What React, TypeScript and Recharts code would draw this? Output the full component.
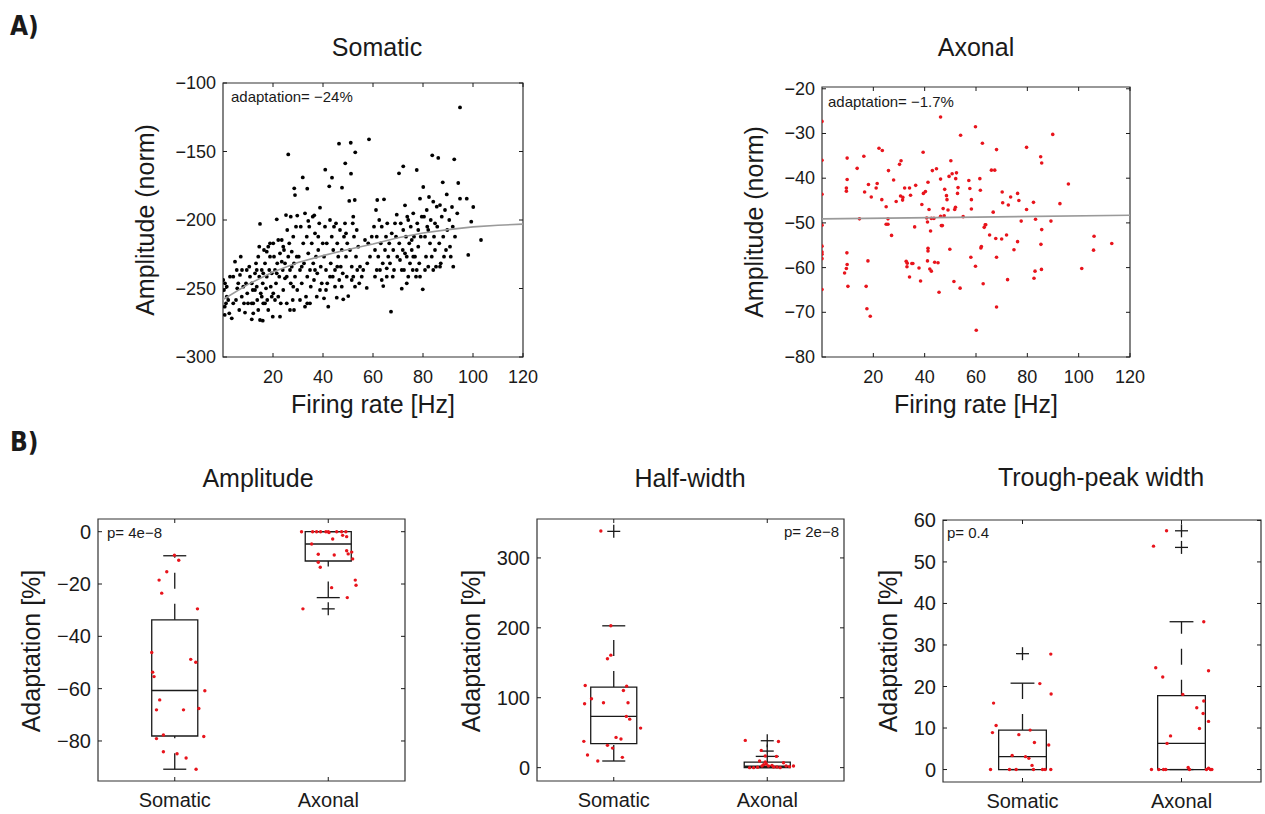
import React from "react";
import {
  ComposedChart,
  ReferenceArea,
  ReferenceLine,
  Scatter,
  XAxis,
  YAxis,
} from "recharts";

const FONT = '"Liberation Sans", Arial, Helvetica, sans-serif';
const INK = "#1a1a1a";
const RED = "#e8141c";
const FIT = "#9a9a9a";

// ---------- A) amplitude vs firing rate ----------
// [firing rate Hz, amplitude (norm)]
const SOMA_PTS: [number, number][] = [
  [0.1, -243.8], [0.4, -251.1], [0.8, -246.2], [1.5, -248.7], [1.2, -260.8], [0.7, -263.3], [2.1, -258.4], [2.8, -241.4],
  [3.5, -271.8], [4.1, -260.8], [4.8, -230.4], [5.5, -236.5], [6.1, -246.2], [6.8, -240.1], [7.1, -226.8], [7.5, -256],
  [8.1, -248.7], [8.4, -260.8], [8.8, -267.6], [9.2, -246.2], [9.5, -236.5], [9.7, -253.5], [5.2, -258.4], [2.5, -268.1],
  [6.5, -265.7], [10, -260.8], [4.1, -241.4], [7.6, -236.5], [5.7, -249.9], [1.5, -256], [0.7, -269.3],
  [10.5, -234.1], [10.8, -241.4], [11.5, -246.2], [11.9, -251.1], [12.1, -260.8], [12.8, -238.9], [13.2, -231.6], [13.5, -248.7],
  [13.7, -258.4], [14.1, -226.8], [14.5, -241.4], [14.8, -273], [15.1, -253.5], [15.5, -236.5], [15.9, -246.2], [16.1, -260.8],
  [16.4, -221.9], [16.8, -231.6], [17.2, -249.9], [17.5, -241.4], [17.7, -258.4], [18.1, -265.7], [18.5, -236.5], [18.8, -226.8],
  [19.1, -248.7], [19.5, -256], [19.9, -270.6], [12.1, -268.1], [14.1, -265.7], [15.5, -256], [16.8, -260.8], [14.5, -219.5],
  [18.1, -219.5], [18.8, -217], [17.5, -223.1], [16.1, -238.9], [13.5, -236.5], [11.5, -260.8], [12.8, -251.1], [19.5, -238.9],
  [14.8, -202.9], [11.5, -272.5], [15.9, -273.5],
  [20.1, -217], [20.4, -226.8], [20.8, -236.5], [21.2, -246.2], [21.5, -199.5], [21.7, -231.6], [22.1, -256], [22.5, -241.4],
  [22.8, -224.3], [23.1, -260.8], [23.5, -214.6], [23.9, -236.5], [24.1, -251.1], [24.4, -221.9], [24.8, -231.6], [25.2, -196.4],
  [25.5, -241.4], [25.7, -207.3], [26.1, -226.8], [26.5, -217], [26.8, -236.5], [27.1, -246.2], [27.5, -223.1], [27.9, -258.4],
  [28.1, -212.2], [28.4, -231.6], [28.8, -241.4], [29.2, -204.9], [29.5, -226.8], [29.7, -251.1], [26.1, -152.1], [28.5, -176.9],
  [28.8, -181.8], [27.1, -197.6], [29.7, -196.8], [26.8, -265.7], [28.4, -265.7], [22.8, -270.6], [20.8, -258.4], [22.1, -214.6],
  [24.8, -242.6], [23.5, -230.4], [25.5, -260.8], [27.5, -234.1], [21.5, -238.9], [24.1, -219.5], [28.1, -248.7], [20.1, -253.5],
  [30.3, -226.8], [30.8, -236.5], [31.1, -204.9], [31.5, -246.2], [31.9, -168.9], [32.1, -217], [32.4, -231.6], [32.8, -195.1],
  [33.2, -256], [33.5, -212.2], [33.7, -177.1], [33.7, -241.4], [34.1, -224.3], [34.5, -204.9], [34.8, -236.5], [35.1, -248.7],
  [35.5, -217], [35.9, -197.6], [36.1, -231.6], [36.4, -243.8], [36.8, -209.7], [37.2, -226.8], [37.5, -256], [37.7, -238.9],
  [38.1, -221.9], [38.5, -202.4], [38.8, -191], [39.1, -234.1], [39.5, -246.2], [36.5, -196.6], [39.9, -217], [33.7, -260.8],
  [40.4, -257.2], [30.8, -258.4], [32.8, -263.3], [34.8, -260.8], [38.8, -251.1], [31.5, -234.1], [34.1, -200.7], [36.8, -236.5],
  [38.1, -212.2],
  [40.4, -226.8], [40.8, -204.9], [40.9, -163.3], [41.2, -236.5], [41.5, -217], [41.7, -246.2], [42.1, -263.3], [42.5, -175.4],
  [42.8, -200], [43.1, -231.6], [43.5, -212.2], [43.6, -169.1], [43.9, -241.4], [44.1, -221.9], [44.4, -204.9], [44.8, -236.5],
  [45.2, -202.4], [45.5, -256.7], [45.7, -217], [46.1, -226.8], [46.4, -144.3], [46.5, -243.8], [46.8, -207.3], [47.1, -234.1],
  [47.5, -221.9], [47.6, -176.4], [47.9, -238.9], [48.1, -257.9], [48.4, -212.2], [48.8, -202.4], [48.9, -158.6], [49.2, -226.8],
  [49.5, -241.4], [49.7, -217], [41.2, -251.1], [44.8, -248.7], [42.8, -241.4], [47.5, -248.7], [45.7, -234.1], [49.2, -209.7],
  [50.1, -255.5], [50.5, -186.1], [50.8, -221.9], [51.1, -143.6], [51.2, -166.2], [51.5, -234.1], [51.9, -202.4], [52.1, -241.4],
  [52.4, -212.2], [52.7, -185.4], [52.9, -150.6], [53.2, -226.8], [53.5, -207.3], [53.7, -236.5], [54.1, -219.5], [54.5, -246.2],
  [54.8, -234.1], [55.5, -241.4], [56.1, -236.5], [56.8, -214.6], [57.5, -249.6], [57.7, -231.6], [58.1, -217], [58.4, -141.1],
  [58.8, -226.8], [59.5, -212.2], [51.5, -243.8], [52.8, -248.7], [52.1, -197.6],
  [60.4, -204.9], [60.8, -221.9], [61.2, -192.7], [61.5, -212.2], [61.7, -185.4], [62.1, -226.8], [62.5, -200], [62.8, -236.5],
  [63.1, -217], [63.5, -204.9], [63.9, -231.6], [64.1, -248.2], [64.4, -184.9], [64.8, -221.9], [65.2, -212.2], [65.5, -241.4],
  [65.7, -202.4], [66.1, -226.8], [66.5, -217], [66.8, -231.6], [67.2, -266.9], [67.5, -209.7], [67.9, -241.4], [68.1, -221.9],
  [68.4, -236.5], [68.8, -202.4], [69.2, -212.2], [69.5, -196.1], [69.7, -226.8], [63.5, -243.8], [65.5, -235.3], [61.5, -236.5],
  [60.8, -241.4],
  [70.4, -165.9], [70.5, -217], [70.8, -229.2], [71.1, -202.4], [71.5, -250.1], [71.9, -221.9], [72.1, -160.8], [72.4, -236.5],
  [72.8, -189.3], [73.2, -212.2], [73.5, -226.8], [73.7, -197.6], [74.1, -241.4], [74.5, -217], [74.8, -231.6], [75.1, -204.9],
  [75.5, -221.9], [75.9, -236.5], [76.1, -195.1], [76.4, -212.2], [76.8, -226.8], [77.2, -241.4], [77.5, -163.5], [77.7, -202.4],
  [78.1, -219.5], [78.5, -231.6], [78.8, -184.4], [79.1, -212.2], [79.5, -197.6], [79.9, -250.6], [71.5, -236.5], [73.5, -246.2],
  [75.5, -214.6], [77.5, -236.5], [72.1, -207.3], [74.1, -200], [76.1, -226.8], [78.1, -207.3], [72.8, -224.3], [78.8, -241.4],
  [80.1, -175.9], [80.4, -197.6], [80.8, -212.2], [81.2, -226.8], [81.5, -192.7], [81.7, -204.9], [82.1, -234.1], [82.4, -183.2],
  [82.8, -217], [83.1, -200], [83.5, -226.8], [83.7, -152.8], [84.1, -186.6], [84.4, -212.2], [84.8, -221.9], [85.2, -234.1],
  [85.5, -190.3], [85.7, -204.9], [86.1, -154.7], [86.5, -217], [86.8, -189.1], [87.1, -231.6], [87.5, -197.6], [87.9, -172.5],
  [88.1, -212.2], [88.4, -226.8], [88.8, -192.7], [89.2, -221.9], [89.5, -181.3], [89.7, -207.3], [80.8, -236.5], [84.1, -236.5],
  [86.8, -234.1], [82.1, -207.3], [84.8, -202.4],
  [90.5, -200], [90.8, -219.5], [91.6, -190.5], [92.1, -234.1], [92.5, -155.7], [92.8, -212.2], [93.7, -195.1], [94.1, -173],
  [94.8, -117.8], [94.8, -184.4], [97.5, -184.4], [98.1, -225.5], [99.3, -201.2], [100.1, -190.5], [103.2, -214.6], [91.1, -226.8],
  [91.9, -204.9],
];
const SOMA_FIT_RATE = [0, 10, 20, 30, 40, 50, 60, 70, 80, 90, 100, 110, 120];
const SOMA_FIT_AMP = [-258, -247, -238, -231, -226, -221.5, -217.5, -213, -209.5, -207, -205, -203.8, -203];

const AXON_PTS: [number, number][] = [
  [0, -27.3], [0, -36], [0, -43.6], [0, -50.5], [0, -55.2], [0, -56.5], [0, -57], [0, -58], [0, -64.9],
  [9.8, -35.5], [9.8, -40.3], [9.5, -42.2], [9.5, -42.9], [9.7, -56.7], [9.8, -59.3], [9.5, -60.2], [8.8, -61.2], [10.1, -64.2],
  [13.7, -37.8], [14.6, -49.1], [16.3, -35.1], [16.6, -43.1], [17.9, -58.5], [17.2, -64.2], [17.5, -69.2], [18.8, -70.9],
  [18.1, -41.4], [19.2, -44.2], [21.1, -42.2], [21.5, -41.2], [22.2, -33.3], [23.5, -33.8], [23.3, -44.8], [25, -46.4],
  [25, -50.3], [25.7, -50.3], [25.9, -38.3], [25.7, -49.1], [27.1, -52.8], [27.9, -40.4], [28.9, -45.2], [30.2, -36.9],
  [30.8, -36.1], [30.6, -44], [31.5, -44.3], [31.4, -44.9], [32.2, -42.2], [32.8, -58.6], [33.1, -59.8], [33.2, -59],
  [34.1, -42.2], [34.1, -62.1], [34.5, -43.8], [35, -59.1], [35.4, -59.1], [36.1, -50.9], [36.5, -41.6], [37.8, -60.1],
  [38.4, -63], [38.9, -45.9], [39.4, -34.2], [39.5, -43.4], [40.3, -43], [40.8, -48.9], [41.1, -49.8], [41.3, -40.9],
  [41.3, -55.7], [41.3, -56.3], [41.1, -58.5], [41.7, -47], [42, -60.3], [42.3, -51.8], [42.6, -60.8], [42.6, -49],
  [43, -38.3], [43.6, -49], [43.9, -58.8], [44.6, -37.9], [45.2, -58.9], [45.6, -65.5], [46.2, -26.3], [46.2, -40.2],
  [46.2, -48.5], [46.5, -50.6], [46.9, -50.6], [47.2, -46.8], [47.6, -48.4], [47.8, -42.5], [48.5, -43.9], [48.7, -44.8],
  [49.1, -47.1], [49.5, -39.6], [49.8, -55.9], [50.2, -36.1], [50.7, -39], [51.4, -63.1], [51.7, -47], [52, -46.5],
  [52.1, -40.1], [52.4, -38.8], [52.8, -43.4], [53, -42.1], [53.8, -64.6], [54, -30.4], [55, -48.6], [57.2, -40.5],
  [57.6, -42.3], [58, -57.7], [58.2, -44.8], [58.2, -46.9], [59.8, -28.5], [59.8, -59.7], [60.1, -74], [61.5, -40.1],
  [61.7, -42.7], [61.9, -55.6], [62.1, -55.3], [62.5, -32.2], [62.8, -63.6], [63.2, -51], [63.6, -50.4], [63.8, -50.4],
  [65.3, -52.7], [66, -38.2], [66.7, -47.6], [67.3, -38.2], [67.7, -53.5], [68, -57.7], [68, -33.6], [68, -68.8],
  [70, -53.6], [70.2, -43.1], [70.4, -45.5], [71.9, -52.7], [72.3, -62.7], [72.6, -46], [73.5, -44.2], [74.8, -56],
  [76.2, -43.4], [76.2, -54.2], [76.7, -45], [77.6, -49.6], [79.7, -47], [79.7, -33.1], [82.4, -45.4], [82.6, -62.4],
  [83, -60.8], [83.2, -49.2], [85.2, -35.2], [85.6, -36.6], [85.5, -60.4], [85.3, -54.8], [85.6, -51.5], [89.2, -49.6],
  [89.9, -30.2], [92.7, -45.7], [96, -41.3], [101.2, -60.2], [105.8, -56.1], [106, -53], [112.9, -54.6],
];
const AXON_FIT_RATE = [0, 60, 120];
const AXON_FIT_AMP = [-49.1, -48.7, -48.3];

const RATE_TICKS = [20, 40, 60, 80, 100, 120];
const SOMA_AMP_TICKS = [-300, -250, -200, -150, -100];
const AXON_AMP_TICKS = [-80, -70, -60, -50, -40, -30, -20];

// ---------- B) adaptation box plots ----------
const GROUPS = ["Somatic", "Axonal"];
// per group: [q1, median, q3, lower whisker, upper whisker]
const AMP_BOX = [
  [-78.1, -60.7, -33.7, -90.8, -9.2],
  [-11.2, -4.7, 0, -25.2, 0],
];
const AMP_OUT = [[], [-29.5]];
// [jittered x position, adaptation %]
const AMP_PTS: [number, number][] = [
  [0.998, -9], [1.026, -10.9], [0.948, -15.3], [0.898, -18.5], [0.915, -23.5], [1.148, -29.5], [0.85, -46.2], [1.104, -48.8],
  [1.137, -49.9], [0.856, -53.7], [0.865, -55.4], [1.196, -60.8], [0.902, -64.3], [0.881, -68.1], [1.057, -68.1], [1.157, -67.6],
  [0.926, -77.7], [1.189, -78.3], [0.881, -79.1], [0.926, -84.1], [1.015, -84.9], [1.074, -86.5], [1.139, -90.8],
  [1.826, 0], [1.898, 0], [1.924, 0], [1.95, 0], [1.985, 0], [2.0, 0], [2.055, 0], [2.087, 0], [2.115, 0], [2.005, -0.3],
  [1.892, -4.7], [2.029, -2.8], [2.094, -1.4], [2.12, -1.9], [2.12, -7.3], [2.153, -7.8], [2.13, -8.5], [1.935, -8.6],
  [2.039, -8.9], [2.159, -10.4], [1.935, -11.7], [1.948, -13.6], [2.176, -18.5], [2.181, -20.5], [2.022, -21.4], [2.124, -25.2],
  [1.835, -29.5],
];

const HW_BOX = [
  [34.3, 73.3, 115.2, 9.5, 202.9],
  [0, 2, 8, 0, 16.1],
];
const HW_OUT = [[338], [23.7, 38.5]];
const HW_PTS: [number, number][] = [
  [0.916, 338.6], [0.981, 202.9], [0.981, 160.9], [0.959, 155.7], [0.814, 117.6], [0.855, 98.6], [1.063, 110.4], [1.084, 116.6],
  [0.81, 91.4], [0.933, 92.9], [1.093, 92.9], [1.082, 73.3], [1.104, 69.4], [1.175, 56.6], [0.805, 37.6], [1.015, 43.3],
  [1.047, 40.9], [0.959, 31.9], [0.992, 28], [0.829, 18], [0.896, 9.5], [1.056, 14.7],
  [1.857, 39], [2.073, 37.5], [1.961, 24.7], [1.987, 16.6], [2.06, 16.1], [1.885, 0], [1.911, 0], [1.937, 0.5],
  [1.966, 2.3], [1.976, 4.3], [1.994, 5.2], [2.008, 2.3], [2.031, 3.3], [2.041, 0.9], [2.063, 0.9], [2.084, 0],
  [2.106, 7.1], [2.123, 2.3], [2.145, 1.4], [2.171, 2.3], [1.987, 8], [1.95, 9.5],
];

const TP_BOX = [
  [0, 3.1, 9.5, 0, 20.8],
  [0, 6.3, 17.8, 0, 35.6],
];
const TP_OUT = [[27.9], [53.5, 57.5]];
const TP_PTS: [number, number][] = [
  [1.178, 27.8], [1.109, 20.7], [1.18, 18.2], [0.818, 16], [0.834, 10.6], [0.811, 8.9], [0.977, 8.4], [1.048, 9.5],
  [1.075, 6.5], [1.165, 5.9], [0.935, 3.4], [1.019, 3.1], [1.04, 2.7], [1.06, 1], [0.799, 0], [0.918, 0],
  [0.96, 0], [1.069, 0], [1.126, 0], [1.142, 0], [1.178, 0],
  [1.906, 57.5], [1.824, 53.8], [2.14, 35.6], [1.838, 24.5], [1.882, 22.3], [2.17, 23.8], [2.008, 18.1], [2.14, 16.5],
  [2.096, 14.9], [2.136, 13.5], [2.17, 11.6], [2.113, 9.9], [1.931, 8.1], [1.909, 6.3], [1.811, 0], [1.857, 0],
  [1.887, 0], [1.901, 0], [2.042, 0.5], [2.05, 0], [2.157, 0], [2.17, 0.3], [2.182, 0], [2.191, 0],
];

const minus = (v: number) => String(v).replace("-", "\u2212");

function XTick(props: any) {
  const { x, y, payload, plotH, size, gap, fmt } = props;
  return (
    <g>
      <line x1={x} x2={x} y1={y} y2={y - 4} stroke={INK} />
      <line x1={x} x2={x} y1={y - plotH} y2={y - plotH + 4} stroke={INK} />
      <text x={x} y={y + gap} textAnchor="middle" dominantBaseline="central" fontSize={size} fontFamily={FONT} fill={INK}>
        {fmt(payload.value)}
      </text>
    </g>
  );
}

function YTick(props: any) {
  const { x, y, payload, plotW, size } = props;
  return (
    <g>
      <line x1={x} x2={x + 4} y1={y} y2={y} stroke={INK} />
      <line x1={x + plotW} x2={x + plotW - 4} y1={y} y2={y} stroke={INK} />
      <text x={x - 7} y={y} textAnchor="end" dominantBaseline="central" fontSize={size} fontFamily={FONT} fill={INK}>
        {minus(payload.value)}
      </text>
    </g>
  );
}

function Txt({ x, y, size, children, anchor = "middle", rotate = false, bold = false, family = FONT }: any) {
  const tx = anchor === "middle" ? "-50%" : anchor === "end" ? "-100%" : "0";
  return (
    <div
      style={{
        position: "absolute",
        left: x,
        top: y,
        transform: `translate(${tx}, -50%)${rotate ? " rotate(-90deg)" : ""}`,
        fontSize: size,
        lineHeight: 1,
        whiteSpace: "nowrap",
        fontFamily: family,
        fontWeight: bold ? 700 : 400,
        color: INK,
      }}
    >
      {children}
    </div>
  );
}

const dot = (fill: string, r: number) => (p: any) => <circle cx={p.cx} cy={p.cy} r={r} fill={fill} />;

const plus = (p: any) => (
  <g stroke={INK} strokeWidth={1.3}>
    <line x1={p.cx - 6.5} x2={p.cx + 6.5} y1={p.cy} y2={p.cy} />
    <line x1={p.cx} x2={p.cx} y1={p.cy - 6.5} y2={p.cy + 6.5} />
  </g>
);

function ScatterPanel({ left, top, w, h, xDomain, yDomain, xTicks, yTicks, pts, fitX, fitY, color, r }: any) {
  const data = pts.map(([x, y]: [number, number]) => ({ x, y }));
  const fit = fitX.map((x: number, i: number) => ({ x, y: fitY[i] }));
  return (
    <div style={{ position: "absolute", left: left - 70, top: top - 10 }}>
      <ComposedChart width={w + 100} height={h + 50} margin={{ top: 10, right: 30, bottom: 10, left: 10 }}>
        <XAxis
          type="number"
          dataKey="x"
          domain={xDomain}
          ticks={xTicks}
          interval={0}
          allowDataOverflow
          height={30}
          axisLine={false}
          tickLine={false}
          tickSize={0}
          tickMargin={0}
          tick={<XTick plotH={h} size={18} gap={20} fmt={(v: number) => String(v)} />}
        />
        <YAxis
          type="number"
          dataKey="y"
          domain={yDomain}
          ticks={yTicks}
          interval={0}
          allowDataOverflow
          width={60}
          axisLine={false}
          tickLine={false}
          tickSize={0}
          tickMargin={0}
          tick={<YTick plotW={w} size={18} />}
        />
        <ReferenceArea
          x1={xDomain[0]}
          x2={xDomain[1]}
          y1={yDomain[0]}
          y2={yDomain[1]}
          fill="none"
          stroke="#333"
          strokeWidth={1.2}
          ifOverflow="visible"
        />
        <Scatter data={data} shape={dot(color, r)} isAnimationActive={false} />
        <Scatter
          data={fit}
          line={{ stroke: FIT, strokeWidth: 1.6 }}
          shape={() => <g />}
          isAnimationActive={false}
        />
      </ComposedChart>
    </div>
  );
}

function BoxPanel({ left, top, w, h, right = 10, yDomain, yTicks, stats, outliers, pts }: any) {
  const data = pts.map(([x, y]: [number, number]) => ({ x, y }));
  return (
    <div style={{ position: "absolute", left: left - 70, top: top - 10 }}>
      <ComposedChart width={w + 70 + right} height={h + 50} margin={{ top: 10, right, bottom: 10, left: 10 }}>
        <XAxis
          type="number"
          dataKey="x"
          domain={[0.5, 2.5]}
          ticks={[1, 2]}
          interval={0}
          allowDataOverflow
          height={30}
          axisLine={false}
          tickLine={false}
          tickSize={0}
          tickMargin={0}
          tick={<XTick plotH={h} size={20} gap={19} fmt={(v: number) => GROUPS[v - 1]} />}
        />
        <YAxis
          type="number"
          dataKey="y"
          domain={yDomain}
          ticks={yTicks}
          interval={0}
          allowDataOverflow
          width={60}
          axisLine={false}
          tickLine={false}
          tickSize={0}
          tickMargin={0}
          tick={<YTick plotW={w} size={20} />}
        />
        <ReferenceArea
          x1={0.5}
          x2={2.5}
          y1={yDomain[0]}
          y2={yDomain[1]}
          fill="none"
          stroke="#333"
          strokeWidth={1.2}
          ifOverflow="visible"
        />
        {stats.map(([q1, med, q3, lo, hi]: number[], i: number) => {
          const c = i + 1;
          return [
            <ReferenceArea key={`box${i}`} x1={c - 0.15} x2={c + 0.15} y1={q1} y2={q3} fill="none" stroke={INK} strokeWidth={1.3} ifOverflow="visible" />,
            <ReferenceLine key={`med${i}`} segment={[{ x: c - 0.15, y: med }, { x: c + 0.15, y: med }]} stroke={INK} strokeWidth={1.3} ifOverflow="visible" />,
            <ReferenceLine key={`wu${i}`} segment={[{ x: c, y: q3 }, { x: c, y: hi }]} stroke={INK} strokeWidth={1.3} strokeDasharray="16 15" ifOverflow="visible" />,
            <ReferenceLine key={`wl${i}`} segment={[{ x: c, y: lo }, { x: c, y: q1 }]} stroke={INK} strokeWidth={1.3} strokeDasharray="16 15" ifOverflow="visible" />,
            <ReferenceLine key={`cu${i}`} segment={[{ x: c - 0.075, y: hi }, { x: c + 0.075, y: hi }]} stroke={INK} strokeWidth={1.3} ifOverflow="visible" />,
            <ReferenceLine key={`cl${i}`} segment={[{ x: c - 0.075, y: lo }, { x: c + 0.075, y: lo }]} stroke={INK} strokeWidth={1.3} ifOverflow="visible" />,
          ];
        })}
        {outliers.map((vals: number[], i: number) => (
          <Scatter
            key={`out${i}`}
            data={vals.map((v) => ({ x: i + 1, y: v }))}
            shape={plus}
            isAnimationActive={false}
          />
        ))}
        <Scatter data={data} shape={dot(RED, 1.7)} isAnimationActive={false} />
      </ComposedChart>
    </div>
  );
}

export default function App() {
  return (
    <div style={{ position: "absolute", left: 0, top: 0, width: 1265, height: 814, background: "#fff", fontFamily: FONT }}>
      <Txt x={10} y={26} size={26} anchor="start" bold family='"Liberation Sans Narrow", "DejaVu Sans Condensed", sans-serif'>A)</Txt>
      <Txt x={10} y={442} size={26} anchor="start" bold family='"Liberation Sans Narrow", "DejaVu Sans Condensed", sans-serif'>B)</Txt>

      <Txt x={377} y={47} size={25}>Somatic</Txt>
      <Txt x={976} y={47} size={25}>Axonal</Txt>
      <Txt x={145} y={220} size={25} rotate>Amplitude (norm)</Txt>
      <Txt x={754} y={222} size={25} rotate>Amplitude (norm)</Txt>
      <Txt x={373} y={404} size={25}>Firing rate [Hz]</Txt>
      <Txt x={976} y={404} size={25}>Firing rate [Hz]</Txt>

      <ScatterPanel
        left={223}
        top={83}
        w={300}
        h={274}
        xDomain={[0, 120]}
        yDomain={[-300, -100]}
        xTicks={RATE_TICKS}
        yTicks={SOMA_AMP_TICKS}
        pts={SOMA_PTS}
        fitX={SOMA_FIT_RATE}
        fitY={SOMA_FIT_AMP}
        color="#000"
        r={1.9}
      />
      <ScatterPanel
        left={822}
        top={87}
        w={308}
        h={270}
        xDomain={[0, 120]}
        yDomain={[-80, -19.6]}
        xTicks={RATE_TICKS}
        yTicks={AXON_AMP_TICKS}
        pts={AXON_PTS}
        fitX={AXON_FIT_RATE}
        fitY={AXON_FIT_AMP}
        color={RED}
        r={1.8}
      />
      <Txt x={231} y={96} size={15} anchor="start">adaptation= {"\u2212"}24%</Txt>
      <Txt x={828} y={101} size={15} anchor="start">adaptation= {"\u2212"}1.7%</Txt>

      <Txt x={258} y={478} size={25}>Amplitude</Txt>
      <Txt x={690} y={478} size={25}>Half-width</Txt>
      <Txt x={1101} y={477} size={25}>Trough-peak width</Txt>
      <Txt x={31} y={651} size={25} rotate>Adaptation [%]</Txt>
      <Txt x={471} y={651} size={25} rotate>Adaptation [%]</Txt>
      <Txt x={888} y={651} size={25} rotate>Adaptation [%]</Txt>

      <BoxPanel
        left={98}
        top={519}
        w={307}
        h={262}
        yDomain={[-95.3, 4.85]}
        yTicks={[-80, -60, -40, -20, 0]}
        stats={AMP_BOX}
        outliers={AMP_OUT}
        pts={AMP_PTS}
      />
      <BoxPanel
        left={537}
        top={519}
        w={307}
        h={262}
        yDomain={[-19.1, 355.7]}
        yTicks={[0, 100, 200, 300]}
        stats={HW_BOX}
        outliers={HW_OUT}
        pts={HW_PTS}
      />
      <BoxPanel
        left={943}
        top={520}
        w={318}
        h={262}
        right={3}
        yDomain={[-3, 60.1]}
        yTicks={[0, 10, 20, 30, 40, 50, 60]}
        stats={TP_BOX}
        outliers={TP_OUT}
        pts={TP_PTS}
      />
      <Txt x={107} y={532} size={15} anchor="start">p= 4e{"\u2212"}8</Txt>
      <Txt x={784} y={531} size={15} anchor="start">p= 2e{"\u2212"}8</Txt>
      <Txt x={947} y={532} size={15} anchor="start">p= 0.4</Txt>
    </div>
  );
}
